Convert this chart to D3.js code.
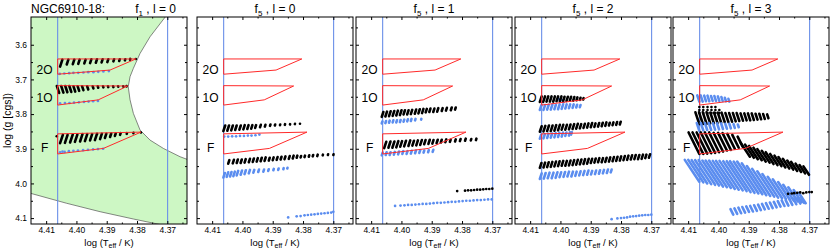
<!DOCTYPE html>
<html>
<head>
<meta charset="utf-8">
<script src="https://cdn.jsdelivr.net/npm/d3@7"></script>
<style>
body { margin: 0; background: #fff; }
text { font-family: 'Liberation Sans', Arial, sans-serif; fill: #000; }
</style>
</head>
<body>
<svg id="chart" width="830" height="250"></svg>
<script>
// ---------------- data (log Teff, log g) ----------------
var panelTitles = ['1', '5', '5', '5', '5'];
var panelDegree = ['0', '0', '1', '2', '3'];
var xMajorTicks = [4.41, 4.40, 4.39, 4.38, 4.37];
var xMinorTicks = [4.405, 4.395, 4.385, 4.375, 4.365];
var yMajorTicks = [3.6, 3.7, 3.8, 3.9, 4.0, 4.1];
var yMinorTicks = [3.55, 3.65, 3.75, 3.85, 3.95, 4.05];
var blueLines = [4.4062, 4.3699];

// instability strip limits (panel 1 background)
var hotBoundary = [[4.3706,3.519],[4.3757,3.577],[4.3790,3.625],[4.3812,3.668],[4.3823,3.692],[4.3829,3.721],
  [4.3823,3.759],[4.3812,3.798],[4.3790,3.846],[4.3757,3.875],[4.3713,3.899],[4.3658,3.923],[4.3630,3.932]];
var lowBoundary = [[4.4155,4.0276],[4.4032,4.0573],[4.3922,4.0815],[4.3812,4.1026],[4.3724,4.1185]];

// observed boxes
var modeNames = ['2O', '1O', 'F'];
var modeLabelPos = [[4.4105,3.684],[4.4105,3.766],[4.4105,3.908]];
var box2O = [[4.4062,3.641],[4.3804,3.641],[4.3889,3.673],[4.4062,3.685]];
var box1O = [[4.4062,3.718],[4.3831,3.719],[4.3928,3.759],[4.4062,3.774]];
var boxF  = [[4.4062,3.857],[4.3787,3.852],[4.3911,3.899],[4.4062,3.915]];

// model tracks: streaks [logT, logg bottom, logg top], dots [logT, logg]
var p1_2O_black = [[4.4054,3.663,3.643],[4.4032,3.657,3.643],[4.4012,3.656,3.643],[4.3994,3.655,3.643],[4.3974,3.654,3.643],
  [4.3955,3.653,3.642],[4.3936,3.652,3.642],[4.3917,3.651,3.642],[4.3898,3.650,3.642],[4.3878,3.648,3.642],[4.3859,3.647,3.642],
  [4.3840,3.645,3.642],[4.3823,3.643,3.641],[4.3804,3.641,3.641]];
var p1_2O_blue = [[4.4055,3.684],[4.4040,3.683],[4.4024,3.682],[4.4010,3.681],[4.3994,3.681],[4.3977,3.680],[4.3961,3.679],
  [4.3944,3.679],[4.3928,3.678],[4.3911,3.677],[4.3893,3.676]];
var p1_1O_black = [[4.4057,3.739,3.719],[4.4043,3.738,3.719],[4.4030,3.737,3.719],[4.4017,3.736,3.719],[4.4004,3.735,3.720],
  [4.3991,3.733,3.720],[4.3977,3.731,3.720],[4.3961,3.729,3.720],[4.3944,3.726,3.720],[4.3928,3.724,3.720],[4.3911,3.723,3.720],
  [4.3895,3.722,3.720],[4.3878,3.722,3.720],[4.3862,3.721,3.720],[4.3845,3.721,3.720],[4.3834,3.720,3.719]];
var p1_1O_blue = [[4.4054,3.769],[4.4038,3.768],[4.4023,3.768],[4.4008,3.767],[4.3992,3.766],[4.3975,3.765],[4.3960,3.764],
  [4.3945,3.763],[4.3929,3.762]];
var p1_F_black = [[4.4065,3.864,3.864],[4.4054,3.884,3.860],[4.4038,3.883,3.860],[4.4021,3.882,3.859],[4.4005,3.880,3.859],
  [4.3988,3.879,3.858],[4.3972,3.878,3.858],[4.3955,3.876,3.858],[4.3939,3.875,3.857],[4.3922,3.872,3.857],[4.3906,3.869,3.857],
  [4.3889,3.866,3.856],[4.3873,3.863,3.856],[4.3856,3.860,3.855],[4.3834,3.857,3.855],[4.3812,3.855,3.854],[4.3787,3.853,3.853]];
var p1_F_blue = [[4.4054,3.910],[4.4046,3.908],[4.4039,3.909],[4.4025,3.907],[4.4010,3.906],[4.3995,3.905],[4.3978,3.904],
  [4.3962,3.903],[4.3945,3.902],[4.3929,3.901],[4.3912,3.900]];

var p2_blackA = [[4.4063,3.849,3.833],[4.4050,3.848,3.833],[4.4037,3.847,3.833],[4.4024,3.846,3.833],[4.4010,3.845,3.833],
  [4.3997,3.844,3.832],[4.3984,3.843,3.832],[4.3971,3.842,3.832],[4.3958,3.840,3.832],[4.3942,3.838,3.831],[4.3926,3.836,3.831],
  [4.3909,3.834,3.830],[4.3893,3.833,3.830],[4.3876,3.832,3.830],[4.3860,3.831,3.829],[4.3843,3.830,3.829],[4.3827,3.829,3.828],
  [4.3810,3.828,3.828]];
var p2_blueA = [[4.4060,3.865],[4.4047,3.865],[4.4034,3.864],[4.4021,3.864],[4.4008,3.863],[4.3995,3.863],[4.3982,3.862],
  [4.3970,3.862],[4.3957,3.861],[4.3944,3.859]];
var p2_blackB = [[4.4047,3.943,3.933],[4.4032,3.942,3.932],[4.4019,3.941,3.931],[4.4006,3.941,3.931],[4.3993,3.940,3.930],
  [4.3979,3.939,3.929],[4.3966,3.938,3.928],[4.3953,3.937,3.927],[4.3940,3.936,3.926],[4.3927,3.935,3.925],[4.3913,3.934,3.926],
  [4.3900,3.933,3.925],[4.3887,3.932,3.924],[4.3874,3.931,3.923],[4.3861,3.930,3.922],[4.3847,3.929,3.921],[4.3834,3.928,3.920],
  [4.3821,3.926,3.920],[4.3808,3.925,3.921],[4.3795,3.924,3.920],[4.3781,3.923,3.919],[4.3768,3.922,3.918],[4.3753,3.921,3.917],
  [4.3735,3.919,3.917],[4.3718,3.918,3.916],[4.3700,3.918,3.916]];
var p2_blueB = [[4.4063,3.983,3.970],[4.4052,3.981,3.968],[4.4041,3.980,3.967],[4.4030,3.979,3.966],[4.4019,3.977,3.964],
  [4.4006,3.975,3.963],[4.3993,3.973,3.962],[4.3979,3.971,3.961],[4.3964,3.969,3.961],[4.3948,3.967,3.960],[4.3931,3.966,3.960],
  [4.3915,3.964,3.959],[4.3898,3.962,3.958],[4.3882,3.961,3.957],[4.3865,3.959,3.956],[4.3852,3.957,3.955]];
var p2_blueC = [[4.3849,4.098],[4.3821,4.095],[4.3808,4.094],[4.3795,4.092],[4.3784,4.091],[4.3773,4.090],[4.3762,4.089],
  [4.3751,4.088],[4.3740,4.087],[4.3729,4.086],[4.3718,4.085],[4.3707,4.084],[4.3700,4.082]];

var p3_blackA = [[4.4065,3.808,3.794],[4.4053,3.807,3.793],[4.4041,3.806,3.792],[4.4029,3.805,3.791],[4.4017,3.804,3.790],
  [4.4005,3.803,3.789],[4.3993,3.801,3.789],[4.3981,3.801,3.789],[4.3969,3.800,3.788],[4.3956,3.799,3.787],[4.3944,3.798,3.786],
  [4.3932,3.797,3.785],[4.3920,3.795,3.785],[4.3908,3.794,3.784],[4.3895,3.794,3.784],[4.3882,3.793,3.783],[4.3867,3.791,3.783],
  [4.3853,3.790,3.782],[4.3837,3.789,3.781],[4.3823,3.787,3.781]];
var p3_blueA = [[4.4065,3.827,3.821],[4.4053,3.826,3.820],[4.4041,3.825,3.819],[4.4029,3.824,3.818],[4.4017,3.824,3.818],
  [4.4005,3.823,3.817],[4.3993,3.822,3.816],[4.3981,3.821,3.815],[4.3969,3.820,3.814],[4.3955,3.818,3.814],[4.3935,3.816,3.814]];
var p3_blackB = [[4.4057,3.898,3.880],[4.4043,3.897,3.879],[4.4030,3.897,3.879],[4.4017,3.896,3.878],[4.4004,3.894,3.878],
  [4.3991,3.893,3.877],[4.3977,3.892,3.876],[4.3964,3.891,3.877],[4.3951,3.890,3.876],[4.3938,3.889,3.875],[4.3925,3.887,3.875],
  [4.3911,3.886,3.874],[4.3898,3.885,3.875],[4.3884,3.884,3.874],[4.3870,3.882,3.874],[4.3855,3.881,3.873],[4.3840,3.880,3.874],
  [4.3823,3.879,3.873],[4.3807,3.878,3.872],[4.3790,3.877,3.871],[4.3771,3.876,3.872],[4.3754,3.875,3.871]];
var p3_blueB = [[4.4065,3.919,3.911],[4.4052,3.918,3.910],[4.4039,3.918,3.910],[4.4025,3.917,3.909],[4.4011,3.916,3.908],
  [4.3997,3.915,3.907],[4.3983,3.915,3.907],[4.3969,3.914,3.906],[4.3955,3.913,3.905],[4.3941,3.912,3.904],[4.3927,3.911,3.905],
  [4.3912,3.910,3.904],[4.3897,3.909,3.903]];
var p3_blackC = [[4.3816,4.022],[4.3790,4.021],[4.3780,4.020],[4.3770,4.020],[4.3760,4.019],[4.3750,4.018],[4.3740,4.018],
  [4.3730,4.017],[4.3720,4.016],[4.3710,4.016],[4.3700,4.015]];
var p3_blueC = [[4.4021,4.065],[4.4003,4.064],[4.3990,4.063],[4.3978,4.062],[4.3966,4.062],[4.3954,4.061],[4.3942,4.060],
  [4.3930,4.059],[4.3918,4.059],[4.3906,4.058],[4.3894,4.057],[4.3882,4.056],[4.3870,4.056],[4.3858,4.055],[4.3846,4.054],
  [4.3834,4.053],[4.3822,4.053],[4.3810,4.052],[4.3798,4.051],[4.3786,4.050],[4.3774,4.050],[4.3762,4.049],[4.3750,4.048],
  [4.3738,4.048],[4.3726,4.047],[4.3714,4.046],[4.3702,4.046]];

var p4_1O_black = [[4.4068,3.765,3.749],[4.4057,3.765,3.749],[4.4046,3.764,3.749],[4.4035,3.764,3.749],[4.4024,3.764,3.749],
  [4.4013,3.763,3.749],[4.4002,3.763,3.749],[4.3991,3.762,3.750],[4.3980,3.762,3.750],[4.3969,3.761,3.750],[4.3958,3.761,3.751],
  [4.3947,3.760,3.752],[4.3936,3.759,3.753],[4.3925,3.758,3.754]];
var p4_1O_blue = [[4.4068,3.788,3.774],[4.4056,3.788,3.774],[4.4044,3.787,3.773],[4.4032,3.787,3.773],[4.4020,3.786,3.773],
  [4.4008,3.786,3.772],[4.3996,3.785,3.772],[4.3984,3.784,3.772],[4.3972,3.783,3.772],[4.3960,3.782,3.772],[4.3948,3.781,3.773],
  [4.3936,3.780,3.774]];
var p4_1O_blueScatter = [[4.4005,3.757],[4.3995,3.760],[4.3990,3.766]];
var p4_blackB = [[4.4068,3.851,3.835],[4.4056,3.850,3.834],[4.4044,3.849,3.833],[4.4032,3.849,3.833],[4.4020,3.848,3.832],
  [4.4008,3.847,3.831],[4.3996,3.845,3.831],[4.3984,3.845,3.831],[4.3972,3.844,3.830],[4.3960,3.843,3.829],[4.3948,3.842,3.828],
  [4.3936,3.841,3.829],[4.3924,3.840,3.828],[4.3912,3.839,3.827],[4.3900,3.838,3.826],[4.3888,3.837,3.827],[4.3876,3.836,3.826],
  [4.3864,3.835,3.825],[4.3852,3.834,3.824],[4.3840,3.833,3.825],[4.3828,3.832,3.824],[4.3816,3.831,3.823],[4.3804,3.830,3.822]];
var p4_blueB = [[4.4068,3.871,3.859],[4.4056,3.870,3.858],[4.4044,3.869,3.857],[4.4032,3.868,3.856],[4.4020,3.867,3.855],
  [4.4008,3.866,3.854],[4.3996,3.865,3.853],[4.3984,3.863,3.853],[4.3972,3.862,3.852],[4.3965,3.859,3.852]];
var p4_blackC = [[4.4068,3.955,3.941],[4.4056,3.954,3.940],[4.4044,3.953,3.939],[4.4032,3.952,3.938],[4.4020,3.951,3.937],
  [4.4008,3.950,3.936],[4.3996,3.949,3.935],[4.3984,3.949,3.935],[4.3972,3.948,3.934],[4.3960,3.947,3.933],[4.3948,3.946,3.932],
  [4.3936,3.945,3.931],[4.3924,3.944,3.930],[4.3912,3.943,3.929],[4.3900,3.941,3.929],[4.3888,3.940,3.928],[4.3876,3.939,3.927],
  [4.3864,3.939,3.927],[4.3852,3.938,3.926],[4.3840,3.937,3.925],[4.3828,3.936,3.924],[4.3816,3.935,3.923],[4.3804,3.934,3.922],
  [4.3792,3.933,3.921],[4.3780,3.932,3.920],[4.3768,3.931,3.919],[4.3756,3.930,3.918],[4.3744,3.930,3.918],[4.3732,3.929,3.917],
  [4.3720,3.927,3.917],[4.3708,3.926,3.916]];
var p4_blueC = [[4.4068,3.987,3.971],[4.4055,3.986,3.970],[4.4042,3.985,3.969],[4.4029,3.985,3.969],[4.4016,3.984,3.968],
  [4.4003,3.982,3.968],[4.3990,3.981,3.967],[4.3977,3.980,3.966],[4.3964,3.980,3.966],[4.3951,3.978,3.966],[4.3938,3.977,3.965],
  [4.3925,3.976,3.964],[4.3912,3.975,3.963],[4.3899,3.974,3.964],[4.3886,3.973,3.963],[4.3873,3.972,3.962],[4.3860,3.971,3.961],
  [4.3847,3.970,3.960],[4.3834,3.968,3.960]];
var p4_blueD = [[4.3831,4.103],[4.3812,4.101],[4.3800,4.100],[4.3790,4.099],[4.3780,4.098],[4.3770,4.096],[4.3760,4.095],
  [4.3750,4.094],[4.3740,4.093],[4.3730,4.092],[4.3720,4.091],[4.3710,4.091],[4.3700,4.090]];

var p5_1O_blue = [[4.4063,3.764,3.746],[4.4052,3.764,3.746],[4.4041,3.763,3.747],[4.4030,3.763,3.747],[4.4019,3.762,3.748],
  [4.4008,3.762,3.748],[4.3997,3.762,3.749],[4.3986,3.762,3.751],[4.3975,3.763,3.753],[4.3964,3.764,3.756]];
var p5_columns = [[4.4063,3.797,3.772],[4.4050,3.797,3.772],[4.4036,3.797,3.772],[4.4023,3.797,3.774],[4.4010,3.797,3.776],
  [4.3997,3.797,3.780]];
var p5_blackB = [[4.4063,3.829,3.795],[4.4051,3.829,3.795],[4.4039,3.828,3.795],[4.4027,3.827,3.795],[4.4015,3.827,3.796],
  [4.4003,3.826,3.796],[4.3991,3.825,3.796],[4.3979,3.824,3.796],[4.3967,3.823,3.797],[4.3955,3.822,3.797],[4.3943,3.821,3.797],
  [4.3931,3.820,3.797],[4.3919,3.819,3.798],[4.3907,3.818,3.798],[4.3895,3.818,3.798],[4.3883,3.817,3.798],[4.3871,3.816,3.799],
  [4.3859,3.815,3.799],[4.3847,3.814,3.800],[4.3835,3.812,3.801]];
var p5_blueB = [[4.4063,3.848,3.826],[4.4050,3.847,3.826],[4.4037,3.846,3.826],[4.4024,3.846,3.826],[4.4011,3.845,3.827],
  [4.3998,3.844,3.827],[4.3985,3.843,3.827],[4.3972,3.842,3.828],[4.3959,3.841,3.828],[4.3946,3.840,3.829],[4.3933,3.838,3.830]];
var p5_blackF = [[4.4063,3.915,3.853],[4.4050,3.915,3.853],[4.4037,3.914,3.853],[4.4024,3.913,3.853],[4.4011,3.912,3.853],
  [4.3998,3.910,3.853],[4.3985,3.908,3.854],[4.3972,3.905,3.854],[4.3959,3.903,3.855],[4.3946,3.900,3.857],[4.3933,3.897,3.860],
  [4.3920,3.894,3.865]];
var p5_blackBand = [[4.3896,3.923,3.883],[4.3883,3.926,3.888],[4.3870,3.930,3.892],[4.3857,3.933,3.897],[4.3844,3.937,3.901],
  [4.3831,3.940,3.906],[4.3818,3.944,3.910],[4.3805,3.947,3.915],[4.3792,3.950,3.920],[4.3779,3.954,3.924],[4.3766,3.957,3.929],
  [4.3753,3.960,3.934],[4.3740,3.964,3.938],[4.3727,3.967,3.943],[4.3714,3.971,3.947],[4.3701,3.975,3.951]];
var p5_blueUpper = [[4.4063,3.995,3.932],[4.4050,3.997,3.932],[4.4037,4.000,3.933],[4.4024,4.002,3.933],[4.4011,4.004,3.933],
  [4.3998,4.006,3.934],[4.3985,4.009,3.934],[4.3972,4.011,3.934],[4.3959,4.013,3.935],[4.3946,4.016,3.935],[4.3933,4.018,3.935],
  [4.3920,4.020,3.936],[4.3907,4.022,3.936],[4.3894,4.025,3.936],[4.3881,4.027,3.937],[4.3868,4.029,3.937],[4.3855,4.031,3.942],
  [4.3842,4.034,3.950],[4.3829,4.036,3.958],[4.3816,4.038,3.965],[4.3803,4.041,3.973],[4.3790,4.043,3.981],[4.3777,4.045,3.988],
  [4.3764,4.047,3.996],[4.3751,4.050,4.004],[4.3738,4.052,4.011],[4.3725,4.054,4.019],[4.3712,4.057,4.027]];
var p5_blueLower = [[4.3951,4.090,4.074],[4.3938,4.088,4.072],[4.3925,4.086,4.070],[4.3912,4.084,4.068],[4.3899,4.082,4.066],
  [4.3886,4.081,4.065],[4.3873,4.079,4.063],[4.3860,4.077,4.061],[4.3847,4.075,4.059],[4.3834,4.073,4.057],[4.3821,4.071,4.055],
  [4.3808,4.069,4.053],[4.3795,4.067,4.051],[4.3782,4.065,4.049],[4.3769,4.064,4.048],[4.3756,4.062,4.046],[4.3743,4.060,4.044],
  [4.3730,4.058,4.042],[4.3717,4.056,4.040]];
var p5_blackBR = [[4.3770,4.030],[4.3758,4.029],[4.3750,4.028],[4.3740,4.027],[4.3730,4.026],[4.3720,4.028],[4.3710,4.026],
  [4.3700,4.025],[4.3692,4.025]];

// ---------------- layout ----------------
var panelLeft = [31, 197, 356, 515, 673];
var panelW = 156, panelTop = 17, panelH = 207;
var black = '#000', blue = '#5b8def';

// panel, colour, slant in px (top end offset), data
var clusters = [
  [0, black, 2, p1_2O_black], [0, blue, 0, p1_2O_blue], [0, black, -2, p1_1O_black], [0, blue, 0, p1_1O_blue],
  [0, black, 2, p1_F_black], [0, blue, 0, p1_F_blue],
  [1, black, 2, p2_blackA], [1, blue, 0, p2_blueA], [1, black, 2, p2_blackB], [1, blue, 2, p2_blueB], [1, blue, 0, p2_blueC],
  [2, black, 2, p3_blackA], [2, blue, 2, p3_blueA], [2, black, 2, p3_blackB], [2, blue, 2, p3_blueB],
  [2, black, 0, p3_blackC], [2, blue, 0, p3_blueC],
  [3, blue, 2, p4_1O_blue], [3, blue, 0, p4_1O_blueScatter], [3, black, 2, p4_1O_black], [3, black, 2, p4_blackB],
  [3, blue, 2, p4_blueB], [3, black, 2, p4_blackC], [3, blue, 2, p4_blueC], [3, blue, 0, p4_blueD],
  [4, blue, -2, p5_1O_blue], [4, black, 0, p5_columns], [4, black, -2, p5_blackB], [4, blue, -2, p5_blueB],
  [4, black, -3, p5_blackF], [4, black, -4, p5_blackBand], [4, blue, -4, p5_blueUpper], [4, blue, -3, p5_blueLower],
  [4, black, 0, p5_blackBR]
];

var x = d3.scaleLinear().domain([4.415, 4.3635]).range([0, panelW]);
var y = d3.scaleLinear().domain([3.52, 4.117]).range([0, panelH]);
var line = d3.line().x(function(d){ return x(d[0]); }).y(function(d){ return y(d[1]); });

var svg = d3.select('#chart');

svg.append('text')
  .attr('x', 31).attr('y', 12.5)
  .style('font-size', '12px')
  .text('NGC6910-18:');

// y axis title
svg.append('text')
  .attr('transform', 'translate(10.5,' + (panelTop + panelH / 2) + ') rotate(-90)')
  .attr('text-anchor', 'middle')
  .style('font-size', '10.5px')
  .text('log (g [cgs])');

panelLeft.forEach(function(left, i){
  var g = svg.append('g').attr('transform', 'translate(' + left + ',' + panelTop + ')');

  g.append('clipPath').attr('id', 'clip' + i)
    .append('rect').attr('width', panelW).attr('height', panelH);
  var body = g.append('g').attr('clip-path', 'url(#clip' + i + ')');

  if (i === 0) {
    body.append('rect').attr('width', panelW).attr('height', panelH).attr('fill', '#cdf7c4');
    body.append('path')
      .attr('d', line(hotBoundary.concat([[4.3600, 3.932], [4.3600, 3.50], [4.3706, 3.50]])) + 'Z')
      .attr('fill', '#fff');
    body.append('path')
      .attr('d', line(lowBoundary.concat([[4.3724, 4.13], [4.4155, 4.13]])) + 'Z')
      .attr('fill', '#fff');
    [hotBoundary, lowBoundary].forEach(function(b){
      body.append('path').attr('d', line(b)).attr('fill', 'none')
        .attr('stroke', '#555').attr('stroke-width', 0.7);
    });
  }

  blueLines.forEach(function(t){
    body.append('line')
      .attr('x1', x(t)).attr('x2', x(t)).attr('y1', 0).attr('y2', panelH)
      .attr('stroke', '#6a8fe8').attr('stroke-width', 1.1);
  });

  clusters.filter(function(c){ return c[0] === i; }).forEach(function(c){
    var sel = body.append('g');
    if (c[3][0].length === 2) {
      sel.selectAll('circle').data(c[3]).enter().append('circle')
        .attr('cx', function(d){ return x(d[0]); })
        .attr('cy', function(d){ return y(d[1]); })
        .attr('r', 1.35)
        .attr('fill', c[1]);
    } else {
      sel.selectAll('line').data(c[3]).enter().append('line')
        .attr('x1', function(d){ return x(d[0]); })
        .attr('y1', function(d){ return y(d[1]); })
        .attr('x2', function(d){ return x(d[0]) + c[2] * (y(d[1]) - y(d[2])) / 6; })
        .attr('y2', function(d){ return y(d[2]); })
        .attr('stroke', c[1])
        .attr('stroke-width', 2.6)
        .attr('stroke-linecap', 'round')
        .attr('stroke-dasharray', c[3] === p5_columns ? '0,3' : null);
    }
  });

  [box2O, box1O, boxF].forEach(function(b){
    body.append('path').attr('d', line(b) + 'Z')
      .attr('fill', 'none').attr('stroke', '#ff2a2a').attr('stroke-width', 1);
  });

  modeNames.forEach(function(m, k){
    g.append('text')
      .attr('x', x(modeLabelPos[k][0])).attr('y', y(modeLabelPos[k][1]))
      .attr('text-anchor', 'middle')
      .style('font-size', '12px')
      .text(m);
  });

  // axes, ticks pointing inward
  var fmt = d3.format('.2f');
  var axes = [
    [d3.axisBottom(x).tickValues(xMajorTicks).tickSize(-3).tickPadding(2.5).tickFormat(fmt), 'translate(0,' + panelH + ')'],
    [d3.axisBottom(x).tickValues(xMinorTicks).tickSize(-1.5).tickFormat(''), 'translate(0,' + panelH + ')'],
    [d3.axisTop(x).tickValues(xMajorTicks).tickSize(-3).tickFormat(''), null],
    [d3.axisTop(x).tickValues(xMinorTicks).tickSize(-1.5).tickFormat(''), null],
    [d3.axisLeft(y).tickValues(yMajorTicks).tickSize(-3).tickPadding(4)
       .tickFormat(i === 0 ? d3.format('.1f') : ''), null],
    [d3.axisLeft(y).tickValues(yMinorTicks).tickSize(-2).tickFormat(''), null],
    [d3.axisRight(y).tickValues(yMajorTicks).tickSize(-3).tickFormat(''), 'translate(' + panelW + ',0)'],
    [d3.axisRight(y).tickValues(yMinorTicks).tickSize(-2).tickFormat(''), 'translate(' + panelW + ',0)']
  ];
  axes.forEach(function(a){
    var ag = g.append('g').attr('transform', a[1]).call(a[0]);
    ag.select('.domain').remove();
    ag.selectAll('text').style('font-size', '8.5px').style('font-family', "'Liberation Sans', Arial, sans-serif");
    ag.selectAll('line').attr('stroke', '#000');
  });

  g.append('rect').attr('width', panelW).attr('height', panelH)
    .attr('fill', 'none').attr('stroke', '#000').attr('stroke-width', 1);

  // panel title
  var title = g.append('text').style('font-size', '12px');
  if (i === 0) {
    title.attr('x', 145).attr('y', -4.5).attr('text-anchor', 'end');
  } else {
    title.attr('x', panelW / 2).attr('y', -4.5).attr('text-anchor', 'middle');
  }
  title.append('tspan').text('f');
  title.append('tspan').attr('dy', 3).style('font-size', '8px').text(panelTitles[i]);
  title.append('tspan').attr('dy', -3).text(' , l = ' + panelDegree[i]);

  // x axis title (baseline at 245 px in the page)
  var xt = g.append('text')
    .attr('x', panelW / 2).attr('y', 245.5 - panelTop)
    .attr('text-anchor', 'middle')
    .style('font-size', '9.5px');
  xt.append('tspan').text('log (T');
  xt.append('tspan').attr('dy', 2).style('font-size', '7px').text('eff');
  xt.append('tspan').attr('dy', -2).text(' / K)');
});
</script>
</body>
</html>
